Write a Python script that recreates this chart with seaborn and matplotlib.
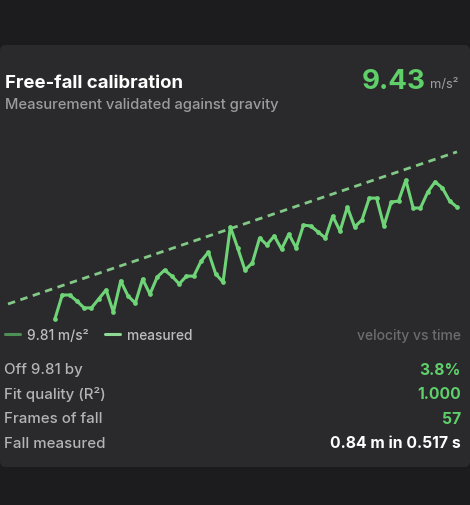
import numpy as np
import pandas as pd
import matplotlib
matplotlib.use("Agg")
import matplotlib.pyplot as plt
import seaborn as sns
from matplotlib.patches import FancyBboxPatch

# measured velocity per frame (m/s)
velocity = [0.50, 1.30, 1.30, 1.10, 0.87, 0.87, 1.17, 1.47, 0.73, 1.77,
            1.27, 1.03, 1.83, 1.33, 1.90, 2.13, 1.93, 1.67, 1.93, 1.93,
            2.43, 2.73, 2.00, 1.73, 3.57, 2.87, 2.13, 2.37, 3.20, 2.97,
            3.27, 2.83, 3.33, 2.87, 3.63, 3.60, 3.40, 3.20, 3.93, 3.43,
            4.23, 3.57, 3.80, 4.53, 4.53, 3.60, 4.40, 4.43, 5.13, 4.20,
            4.20, 4.73, 5.07, 4.87, 4.43, 4.23]
t_first = 0.054
t_last = 0.517
# reference line g = 9.81 m/s^2
ref_t = [0.0, 0.517]
ref_v = [1.00, 1.00 + 9.81 * 0.517]

stat_labels = ["Off 9.81 by", "Fit quality (R\u00b2)", "Frames of fall", "Fall measured"]
stat_values = ["3.8%", "1.000", "57", "0.84 m in 0.517 s"]
stat_green = [True, True, True, False]

W, H = 470, 506
BG = "#1c1c1e"
CARD = "#2a2a2c"
GREEN = "#5fcf6a"
LINE = "#6fd477"
REF = "#82c886"

sns.set_theme(style="dark")
plt.rcParams["font.family"] = ["Inter", "DejaVu Sans"]

fig = plt.figure(figsize=(W / 100, H / 100), dpi=100, facecolor=BG)


def px(x, y):
    return x / W, 1 - y / H


card = FancyBboxPatch((0, 1 - 468 / H), 1, (468 - 46) / H,
                      boxstyle="round,pad=0,rounding_size=0.012",
                      transform=fig.transFigure, facecolor=CARD, edgecolor="none", zorder=-5)
fig.patches.append(card)

# header
fig.text(*px(5, 84), "Free-fall calibration", color="white", fontsize=13.4,
         fontweight="bold", va="center", ha="left")
fig.text(*px(5, 105.5), "Measurement validated against gravity", color="#9c9ca0",
         fontsize=10.6, fontweight="medium", va="center", ha="left")
fig.text(*px(426, 82), "9.43", color=GREEN, fontsize=20, fontweight="bold",
         va="center", ha="right")
fig.text(*px(430, 85), "m/s\u00b2", color="#a0a0a4", fontsize=9.3, va="center", ha="left")

# chart
ax = fig.add_axes([8 / W, (H - 330) / H, 449 / W, 200 / H])
ax.set_facecolor("none")
times = np.linspace(t_first, t_last, len(velocity))
df = pd.DataFrame({"t": times, "v": velocity})
ref = pd.DataFrame({"t": ref_t, "v": ref_v})
sns.lineplot(data=ref, x="t", y="v", ax=ax, color=REF, linewidth=2.0, clip_on=False)
ax.lines[-1].set_dashes((2.7, 2.0))
sns.lineplot(data=df, x="t", y="v", ax=ax, color=LINE, linewidth=2.2,
             marker="o", markersize=3.4, markeredgewidth=0, clip_on=False)
ax.set_xlim(0, 0.517)
ax.set_ylim((335 - 330) / 30, (335 - 130) / 30)
ax.set_axis_off()

# legend row
fig.add_artist(plt.Line2D([5 / W, 20 / W], [1 - 335 / H] * 2, color="#4e8f55", linewidth=2.2))
fig.text(*px(27, 336), "9.81 m/s\u00b2", color="#bdbdc0", fontsize=9.9,
         fontweight="medium", va="center", ha="left")
fig.add_artist(plt.Line2D([105 / W, 120 / W], [1 - 335 / H] * 2, color="#8fd896", linewidth=2.2))
fig.text(*px(127, 336), "measured", color="#bdbdc0", fontsize=9.9,
         fontweight="medium", va="center", ha="left")
fig.text(*px(461, 336), "velocity vs time", color="#6c6c70", fontsize=10,
         fontweight="medium", va="center", ha="right")

# stats
for i, (lab, val, g) in enumerate(zip(stat_labels, stat_values, stat_green)):
    y = 370.5 + i * 24.4
    fig.text(*px(4, y), lab, color="#b4b4b8", fontsize=10.8, fontweight="medium",
             va="center", ha="left")
    fig.text(*px(461, y), val, color=GREEN if g else "white", fontsize=11.3,
             fontweight="bold", va="center", ha="right")

fig.savefig("out.png", dpi=100, facecolor=BG)
